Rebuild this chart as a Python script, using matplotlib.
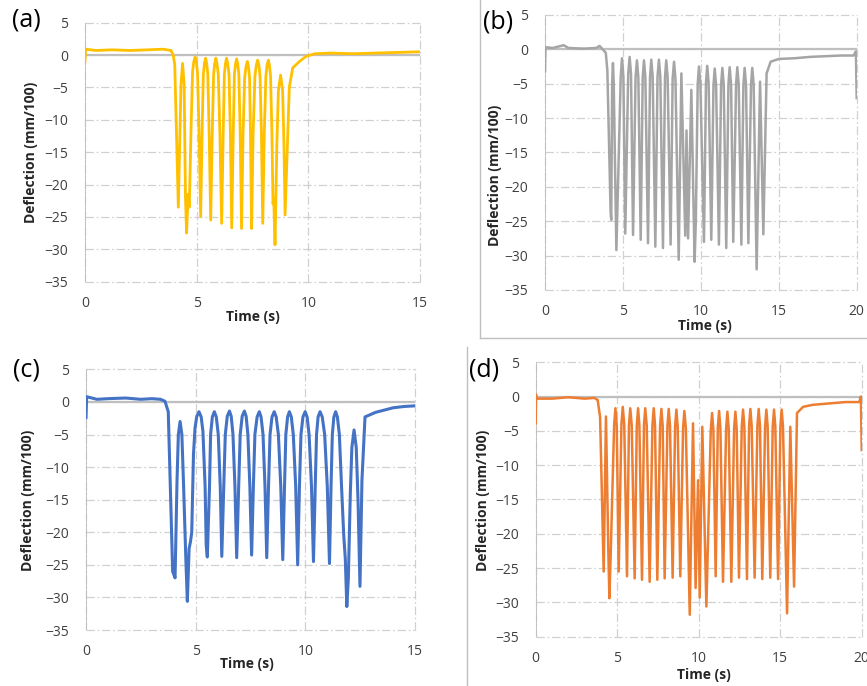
"""Deflection vs time, four load cases (a)-(d)"""

import matplotlib.pyplot as plt

plt.rcParams['font.family'] = ['Open Sans', 'DejaVu Sans']
plt.rcParams['lines.scale_dashes'] = False

# ---- traces: time (s), deflection (mm/100) ----
time_a = [0.0, 0.03, 0.5, 1.2, 2.0, 2.8, 3.5, 3.85, 3.95, 4.02, 4.18,
          4.30, 4.37, 4.44, 4.50, 4.55, 4.62, 4.67,
          4.76, 4.82, 4.87, 4.93, 4.99, 5.04, 5.11, 5.18,
          5.25, 5.30, 5.35, 5.40, 5.45, 5.50, 5.56, 5.63,
          5.70, 5.76, 5.81, 5.86, 5.91, 5.97, 6.04, 6.12,
          6.19, 6.24, 6.29, 6.34, 6.39, 6.45, 6.51, 6.57,
          6.64, 6.69, 6.74, 6.79, 6.84, 6.89, 6.95, 7.01,
          7.08, 7.15, 7.21, 7.27, 7.32, 7.37, 7.41, 7.46,
          7.53, 7.61, 7.67, 7.73, 7.79, 7.84, 7.90, 7.96,
          8.03, 8.10, 8.15, 8.21, 8.26, 8.31, 8.37, 8.42, 8.45, 8.51,
          8.59, 8.66, 8.76, 8.85, 8.91, 8.96,
          9.15, 9.3, 9.6, 9.9, 10.3, 11.0, 12.0, 13.0, 14.0, 15.0]
defl_a = [-1.0, 0.9, 0.7, 0.8, 0.7, 0.8, 0.9, 0.7, 0.0, -1.5, -23.5,
          -4.5, -1.3, -4.5, -22.0, -27.5, -21.5, -23.5,
          -10.0, -2.5, -1.1, -0.3, -1.1, -2.8, -12.0, -24.9,
          -11.0, -3.0, -1.3, -0.5, -1.3, -3.0, -12.0, -25.5,
          -12.0, -3.0, -1.3, -0.5, -1.3, -3.0, -12.0, -26.0,
          -12.0, -3.0, -1.3, -0.5, -1.3, -3.0, -12.0, -26.7,
          -12.0, -3.0, -1.4, -0.6, -1.4, -3.0, -12.0, -26.8,
          -12.0, -3.5, -1.8, -1.0, -1.8, -3.5, -12.0, -26.8,
          -12.0, -3.3, -1.6, -0.8, -1.6, -3.3, -12.0, -26.0,
          -12.0, -3.3, -1.6, -0.8, -1.6, -3.3, -12.0, -23.0, -22.0, -29.3,
          -14.0, -5.5, -3.1, -5.5, -14.0, -24.7,
          -5.0, -2.0, -1.0, -0.2, 0.2, 0.3, 0.2, 0.3, 0.4, 0.5]

time_b = [0.0, 0.03, 0.5, 1.2, 1.5, 2.5, 3.3, 3.5, 3.7, 3.9, 4.0, 4.21, 4.25,
          4.31, 4.36, 4.41, 4.58,
          4.86, 4.94, 5.03, 5.15,
          5.34, 5.43, 5.52, 5.65,
          5.81, 5.90, 5.99, 6.14,
          6.27, 6.35, 6.44, 6.61,
          6.74, 6.82, 6.91, 7.08,
          7.22, 7.31, 7.40, 7.57,
          7.70, 7.78, 7.87, 8.06,
          8.19, 8.28, 8.37, 8.58,
          8.75, 9.0, 9.08, 9.18, 9.39, 9.60, 9.68,
          9.80, 9.88, 9.97, 10.2,
          10.33, 10.41, 10.50, 10.67,
          10.81, 10.89, 10.98, 11.16,
          11.30, 11.38, 11.47, 11.63,
          11.77, 11.85, 11.94, 12.08,
          12.26, 12.34, 12.43, 12.6,
          12.73, 12.81, 12.90, 13.05,
          13.22, 13.30, 13.39, 13.58,
          13.80, 14.01, 14.22, 14.48, 15.0,
          16.0, 17.0, 18.0, 19.0, 19.8, 19.95, 20.0]
defl_b = [-3.2, 0.3, 0.2, 0.6, 0.2, 0.1, 0.2, 0.5, 0.0, -0.5, -3.0, -23.6, -24.8,
          -5.0, -2.0, -5.0, -29.2,
          -4.0, -1.3, -4.0, -26.8,
          -3.6, -1.1, -3.6, -27.0,
          -4.1, -1.6, -4.1, -27.7,
          -4.1, -1.6, -4.1, -28.2,
          -4.0, -1.5, -4.0, -28.7,
          -4.0, -1.5, -4.0, -28.9,
          -4.1, -1.6, -4.1, -28.4,
          -4.3, -1.8, -4.3, -30.6,
          -3.5, -27.1, -11.8, -27.5, -5.9, -30.9, -24.8,
          -5.0, -2.5, -5.0, -28.0,
          -4.9, -2.4, -4.9, -27.7,
          -5.3, -2.8, -5.3, -28.4,
          -5.2, -2.7, -5.2, -28.9,
          -5.1, -2.6, -5.1, -28.0,
          -5.1, -2.6, -5.1, -28.4,
          -5.2, -2.7, -5.2, -28.2,
          -5.2, -2.7, -5.2, -32.0,
          -4.7, -26.9, -3.5, -1.8, -1.4,
          -1.3, -1.1, -1.0, -0.9, -0.9, -0.3, -7.1]

time_c = [0.0, 0.03, 0.5, 1.0, 1.8, 2.5, 3.0, 3.4, 3.6, 3.75, 3.95, 4.06,
          4.15, 4.21, 4.29, 4.37, 4.45, 4.55, 4.62,
          4.70, 4.76, 4.82, 4.90, 4.97, 5.05, 5.15, 5.25, 5.33, 5.43, 5.48, 5.53,
          5.63, 5.68, 5.76, 5.85, 5.94, 6.03, 6.12, 6.19,
          6.28, 6.35, 6.44, 6.54, 6.62, 6.70, 6.79, 6.87,
          6.96, 7.03, 7.12, 7.22, 7.30, 7.38, 7.47, 7.55,
          7.63, 7.70, 7.80, 7.90, 7.98, 8.07, 8.16, 8.24,
          8.32, 8.39, 8.48, 8.58, 8.67, 8.77, 8.88, 8.97,
          9.05, 9.11, 9.19, 9.27, 9.36, 9.45, 9.56, 9.65,
          9.73, 9.80, 9.89, 9.99, 10.08, 10.17, 10.28, 10.37,
          10.45, 10.51, 10.58, 10.67, 10.77, 10.88, 11.00, 11.10,
          11.17, 11.23, 11.30, 11.38, 11.46, 11.55, 11.65, 11.75, 11.82, 11.89, 11.96,
          12.05, 12.12, 12.22, 12.32, 12.40, 12.49,
          12.58, 12.72, 13.2, 14.0, 14.5, 15.0]
defl_c = [-2.4, 0.8, 0.4, 0.5, 0.6, 0.4, 0.5, 0.4, 0.1, -1.5, -26.0, -27.0,
          -12.0, -5.0, -3.0, -5.0, -13.0, -24.0, -30.6,
          -22.5, -21.5, -20.0, -8.0, -4.0, -2.2, -1.5, -2.3, -4.5, -13.0, -22.0, -23.8,
          -13.0, -5.0, -2.3, -1.5, -2.3, -5.0, -13.0, -23.7,
          -13.0, -5.0, -2.2, -1.4, -2.2, -5.0, -13.0, -23.9,
          -13.0, -5.0, -2.2, -1.4, -2.2, -5.0, -13.0, -23.5,
          -13.0, -5.0, -2.3, -1.5, -2.3, -5.0, -13.0, -23.9,
          -13.0, -5.0, -2.3, -1.5, -2.3, -5.0, -13.0, -24.2,
          -13.0, -5.0, -2.3, -1.5, -2.3, -5.0, -13.0, -25.0,
          -13.0, -5.0, -2.3, -1.5, -2.3, -5.0, -13.0, -24.5,
          -13.0, -5.0, -2.3, -1.5, -2.3, -5.0, -13.0, -24.8,
          -13.0, -5.0, -2.3, -1.5, -2.3, -5.0, -13.0, -20.5, -24.0, -31.4, -27.0,
          -14.0, -7.0, -4.3, -7.0, -15.0, -28.3,
          -12.0, -2.3, -1.6, -0.9, -0.7, -0.6]

time_d = [0.0, 0.02, 0.05, 1.0, 2.0, 3.0, 3.6, 3.8, 3.95, 4.17, 4.31, 4.45, 4.52, 4.60,
          4.81, 4.89, 4.97, 5.09,
          5.26, 5.34, 5.43, 5.60,
          5.72, 5.80, 5.89, 6.07,
          6.20, 6.28, 6.36, 6.52,
          6.64, 6.72, 6.81, 6.99,
          7.16, 7.24, 7.32, 7.46,
          7.63, 7.71, 7.79, 7.91,
          8.08, 8.16, 8.24, 8.40,
          8.55, 8.63, 8.71, 8.87,
          9.04, 9.12, 9.21, 9.45,
          9.65, 9.81, 9.96, 10.06, 10.22, 10.47,
          10.74, 10.82, 10.90, 11.04,
          11.17, 11.25, 11.33, 11.49,
          11.68, 11.76, 11.84, 12.0,
          12.17, 12.25, 12.33, 12.47,
          12.64, 12.72, 12.80, 12.96,
          13.09, 13.17, 13.25, 13.43,
          13.60, 13.68, 13.76, 13.90,
          14.07, 14.15, 14.23, 14.39,
          14.54, 14.62, 14.70, 14.87,
          15.01, 15.09, 15.17, 15.42,
          15.62, 15.85, 16.03, 16.4, 17.0, 18.0, 19.0, 19.85, 19.95, 20.0]
defl_d = [-3.9, 0.3, -0.3, -0.3, -0.1, -0.3, -0.2, -0.5, -3.0, -25.5, -2.9, -22.0, -29.4, -23.0,
          -4.2, -1.7, -4.2, -25.5,
          -4.0, -1.5, -4.0, -26.2,
          -4.2, -1.7, -4.2, -26.5,
          -4.2, -1.7, -4.2, -26.7,
          -4.2, -1.7, -4.2, -27.0,
          -4.2, -1.7, -4.2, -26.7,
          -4.3, -1.8, -4.3, -26.5,
          -4.3, -1.8, -4.3, -26.4,
          -4.4, -1.9, -4.4, -26.2,
          -4.6, -2.1, -4.6, -31.8,
          -3.9, -27.9, -12.2, -29.3, -4.4, -30.6,
          -4.9, -2.4, -4.9, -26.2,
          -4.6, -2.1, -4.6, -27.0,
          -4.7, -2.2, -4.7, -27.0,
          -4.7, -2.2, -4.7, -26.4,
          -4.4, -1.9, -4.4, -26.6,
          -4.3, -1.8, -4.3, -26.4,
          -4.3, -1.8, -4.3, -26.6,
          -4.4, -1.9, -4.4, -26.4,
          -4.4, -1.9, -4.4, -26.6,
          -4.4, -1.9, -4.4, -31.6,
          -4.4, -27.7, -2.4, -1.5, -1.2, -1.0, -0.8, -0.8, 0.0, -7.8]

y_ticks = [5, 0, -5, -10, -15, -20, -25, -30, -35]
x_ticks_15 = [0, 5, 10, 15]
x_ticks_20 = [0, 5, 10, 15, 20]

GRID = '#D0D0D0'
AXIS = '#BFBFBF'
TEXT = '#404040'


def style_axes(ax, xticks, xlabel_pos, ylabel_pos):
    ax.set_xlim(xticks[0], xticks[-1])
    ax.set_ylim(-35, 5)
    ax.set_xticks(xticks)
    ax.set_yticks(y_ticks)
    for s in ax.spines.values():
        s.set_visible(False)

    # Excel style dash-dot gridlines, also on the plot-area border
    ax.grid(True, color=GRID, linestyle=(0, (6, 2, 1.2, 2)), linewidth=0.9)
    for gl in ax.get_xgridlines() + ax.get_ygridlines():
        gl.set_clip_on(False)
    ax.set_axisbelow(True)

    # vertical axis and horizontal axis crossing at zero
    ax.axvline(xticks[0], color=AXIS, linewidth=1.3, zorder=1)
    ax.axhline(0, color=AXIS, linewidth=1.6, zorder=1)

    ax.tick_params(axis='both', length=0, labelsize=10, labelcolor=TEXT)
    ax.tick_params(axis='y', pad=12)
    ax.tick_params(axis='x', pad=10)

    ax.text(xlabel_pos[0], xlabel_pos[1], 'Time (s)', transform=ax.transAxes,
            ha='center', va='center', fontsize=10, fontweight='bold', color='#262626')
    ax.text(ylabel_pos[0], ylabel_pos[1], 'Deflection (mm/100)', transform=ax.transAxes,
            ha='center', va='center', rotation=90, fontsize=10, fontweight='bold',
            color='#262626')


fig = plt.figure(figsize=(8.67, 6.86), dpi=100)

ax_a = fig.add_axes([0.098, 0.5894, 0.3864, 0.3776])
ax_b = fig.add_axes([0.6286, 0.5773, 0.3595, 0.4009])
ax_c = fig.add_axes([0.0992, 0.0816, 0.3795, 0.3800])
ax_d = fig.add_axes([0.6179, 0.0719, 0.3760, 0.4000])

ax_a.plot(time_a, defl_a, color='#FFC000', linewidth=2.0, zorder=3)
ax_b.plot(time_b, defl_b, color='#A5A5A5', linewidth=1.8, zorder=3)
ax_c.plot(time_c, defl_c, color='#4472C4', linewidth=2.2, zorder=3)
ax_d.plot(time_d, defl_d, color='#ED7D31', linewidth=1.8, zorder=3)

style_axes(ax_a, x_ticks_15, (0.5, -0.138), (-0.162, 0.499))
style_axes(ax_b, x_ticks_20, (0.513, -0.131), (-0.160, 0.415))
style_axes(ax_c, x_ticks_15, (0.488, -0.132), (-0.177, 0.499))
style_axes(ax_d, x_ticks_20, (0.516, -0.139), (-0.163, 0.498))

# panel letters
for x, y, s in [(0.0308, 0.9708, '(a)'), (0.574, 0.968, '(b)'),
                (0.030, 0.4606, '(c)'), (0.5588, 0.4606, '(d)')]:
    fig.text(x, y, s, ha='center', va='center', fontsize=18, color='black')

# light frames around the right-hand panels
fig.add_artist(plt.Line2D([0.5536, 0.5536], [0.5073, 1.0], color=AXIS, linewidth=1.0))
fig.add_artist(plt.Line2D([0.5536, 1.0], [0.5073, 0.5073], color=AXIS, linewidth=1.0))
fig.add_artist(plt.Line2D([0.539, 0.539], [0.0, 0.4946], color=AXIS, linewidth=1.0))

plt.savefig('out.png', dpi=100)
plt.close()
